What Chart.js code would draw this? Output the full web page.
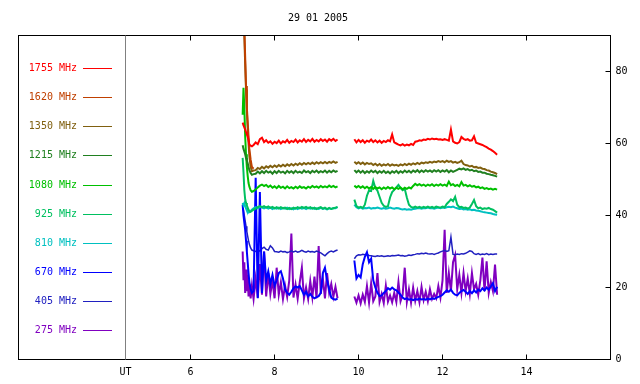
<!DOCTYPE html>
<html>
<head>
<meta charset="utf-8">
<script src="https://cdn.jsdelivr.net/npm/chart.js@4"></script>
<style>
  html, body { margin: 0; padding: 0; background: #fff; }
</style>
</head>
<body>
<canvas id="spectro" width="640" height="384"></canvas>
<script>
// sampling times in UT hours (9.70 marks the data gap)
const times = [
  7.24, 7.26, 7.28, 7.30, 7.32, 7.34, 7.36, 7.38, 7.40, 7.43, 7.46, 7.50,
  7.55, 7.60, 7.65, 7.70, 7.75, 7.80, 7.85, 7.90, 7.95, 8.00,
  8.05, 8.10, 8.15, 8.20, 8.25, 8.30, 8.35, 8.40, 8.45, 8.50,
  8.55, 8.60, 8.65, 8.70, 8.75, 8.80, 8.85, 8.90, 8.95, 9.00,
  9.05, 9.10, 9.15, 9.20, 9.25, 9.30, 9.35, 9.40, 9.45, 9.50,
  9.70,
  9.90, 9.95, 10.00, 10.05, 10.10, 10.15, 10.20, 10.25, 10.30, 10.35,
  10.40, 10.45, 10.50, 10.55, 10.60, 10.65, 10.70, 10.75, 10.80, 10.85,
  10.90, 10.95, 11.00, 11.05, 11.10, 11.15, 11.20, 11.25, 11.30, 11.35,
  11.40, 11.45, 11.50, 11.55, 11.60, 11.65, 11.70, 11.75, 11.80, 11.85,
  11.90, 11.95, 12.00, 12.05, 12.10, 12.15, 12.20, 12.25, 12.30, 12.35,
  12.40, 12.45, 12.50, 12.55, 12.60, 12.65, 12.70, 12.75, 12.80, 12.85,
  12.90, 12.95, 13.00, 13.05, 13.10, 13.15, 13.20, 13.25, 13.30
];

const s1755 = [
  65.8, 65.0, 64.5, 63.9, 63.2, 62.5, 62.0, 61.0, 59.7, 59.4, 59.2, 59.6,
  60.3, 59.8, 61.2, 61.6, 60.4, 60.9, 60.2, 60.6, 59.9, 60.5,
  60.1, 60.8, 60.0, 60.6, 60.3, 61.0, 60.2, 60.7, 60.4, 61.1,
  60.3, 60.9, 60.5, 61.2, 60.4, 61.0, 60.6, 61.3, 60.5, 61.0,
  60.6, 61.2, 60.7, 61.1, 60.5, 61.2, 60.8, 61.3, 60.7, 61.1,
  null,
  61.2, 60.3, 61.0, 60.4, 60.9, 60.2, 60.8, 60.5, 61.1, 60.4,
  60.9, 60.3, 60.8, 60.2, 60.7, 60.4, 60.9, 60.6, 62.5, 60.3,
  60.0, 59.7, 59.5, 59.8, 59.4, 59.7, 59.5, 59.9, 59.6, 60.5,
  60.6, 60.9, 60.8, 61.1, 61.0, 61.3, 61.1, 61.4, 61.2, 61.3,
  61.1, 61.2, 61.0, 61.2, 61.0, 60.8, 63.9, 60.6, 60.2, 60.0,
  60.4, 61.8, 61.3, 61.0, 61.2, 60.8, 60.9, 62.0, 60.2, 60.0,
  59.8, 59.6, 59.3, 59.0, 58.6, 58.3, 57.9, 57.4, 56.9
];

// 1620 MHz is only seen during the start-up drop, later it hides under 1350 MHz
const s1620 = [95, 95, 92, 84, 76, 70, 66, 62, 58.5, 55.5, 53.5, 53.0];

const s1350 = [
  95, 94, 90, 82, 75, 69, 64, 60, 56.5, 53.5, 52.3, 52.5,
  52.6, 53.2, 52.9, 53.5, 53.1, 53.7, 53.3, 53.8, 53.4, 53.9,
  53.5, 54.0, 53.6, 54.1, 53.7, 54.2, 53.8, 54.3, 53.9, 54.4,
  54.0, 54.5, 54.1, 54.6, 54.2, 54.6, 54.3, 54.7, 54.3, 54.8,
  54.4, 54.8, 54.5, 54.9, 54.5, 54.9, 54.6, 55.0, 54.6, 54.9,
  null,
  54.9, 54.4, 54.8, 54.3, 54.7, 54.2, 54.6, 54.3, 54.5, 54.0,
  54.4, 53.9, 54.3, 53.8, 54.2, 53.9, 54.3, 53.8, 54.2, 53.9,
  54.1, 53.8, 54.2, 53.9, 54.3, 54.0, 54.4, 54.1, 54.5, 54.2,
  54.6, 54.3, 54.7, 54.5, 54.8, 54.6, 54.9, 54.7, 55.0, 54.8,
  55.1, 54.9, 55.1, 54.8, 55.2, 54.9, 55.1, 54.7, 54.9, 54.6,
  54.8, 55.2, 54.3, 54.0, 53.9, 53.6, 53.8, 53.4, 53.5, 53.2,
  53.3, 53.0, 52.9, 52.6, 52.5, 52.2, 52.0, 51.8, 51.5
];

const s1215 = [
  59.5, 58.5, 57.8, 57.0, 56.0, 55.3, 54.5, 53.5, 52.6, 51.8, 51.3, 51.5,
  51.6, 52.2, 51.7, 52.3, 51.8, 52.4, 51.9, 52.2, 51.6, 52.3,
  51.8, 52.4, 51.9, 52.2, 51.7, 52.4, 51.9, 52.3, 51.8, 52.4,
  51.9, 52.2, 51.8, 52.5, 52.0, 52.3, 51.8, 52.4, 52.0, 52.5,
  51.9, 52.3, 52.0, 52.5, 51.9, 52.4, 52.0, 52.5, 52.1, 52.4,
  null,
  52.6, 52.0, 52.5, 51.9, 52.4, 51.8, 52.3, 51.9, 52.5, 52.0,
  52.4, 51.8, 52.3, 51.9, 52.4, 51.8, 52.2, 51.7, 52.3, 51.9,
  52.4, 51.8, 52.3, 51.9, 52.5, 52.0, 52.4, 51.9, 52.5, 52.1,
  52.6, 52.0, 52.5, 52.1, 52.6, 52.2, 52.5, 52.1, 52.6, 52.2,
  52.6, 52.1, 52.5, 52.2, 52.6, 52.0, 52.5, 52.1, 52.4, 52.7,
  53.0, 52.8, 53.1, 52.7, 52.9, 52.5, 52.7, 52.3, 52.5, 52.1,
  52.2, 51.9, 51.9, 51.6, 51.5, 51.3, 51.2, 51.0, 50.8
];

const s1080 = [
  68.0, 75.5, 70.0, 62.0, 57.0, 53.5, 51.0, 49.0, 48.0, 47.0, 46.6, 46.8,
  47.2, 47.8, 48.3, 48.6, 48.2, 48.5, 47.9, 48.3, 47.7, 48.1,
  47.6, 48.2, 47.7, 48.0, 47.5, 48.1, 47.6, 47.9, 47.5, 48.0,
  47.6, 48.1, 47.7, 47.9, 47.5, 48.0, 47.7, 48.2, 47.8, 48.1,
  47.7, 48.2, 47.8, 48.1, 47.8, 48.3, 47.9, 48.2, 47.8, 48.1,
  null,
  48.3, 47.8, 48.2, 47.7, 48.1, 47.6, 48.0, 47.5, 47.9, 47.4,
  47.9, 47.5, 47.8, 47.3, 47.8, 47.4, 47.9, 47.5, 47.8, 47.3,
  47.7, 47.4, 47.8, 47.3, 47.7, 47.4, 47.8, 47.5, 48.2, 48.8,
  48.4, 48.7, 48.3, 48.6, 48.2, 48.6, 48.3, 48.7, 48.2, 48.6,
  48.3, 48.7, 48.3, 48.6, 48.2, 49.4, 48.4, 48.7, 48.2, 48.5,
  48.1, 49.3, 48.3, 48.5, 48.1, 48.4, 48.0, 48.2, 47.8, 48.0,
  47.6, 47.8, 47.4, 47.6, 47.3, 47.5, 47.2, 47.4, 47.2
];

const s925 = [
  56.0, 52.0, 47.0, 44.5, 43.5, 42.8, 42.2, 41.6, 41.2, 41.0, 41.3, 41.6,
  41.9, 42.3, 42.6, 42.3, 42.6, 42.2, 42.5, 42.1, 42.4, 42.0,
  42.3, 41.9, 42.3, 42.0, 42.2, 41.8, 42.1, 41.8, 42.2, 41.9,
  42.3, 42.0, 42.4, 42.1, 42.4, 42.0, 42.3, 41.9, 42.2, 41.8,
  42.1, 42.3, 41.9, 42.2, 41.8, 42.1, 41.8, 42.0, 42.2, 42.4,
  null,
  44.4, 42.6, 42.2, 42.4, 42.1, 43.0, 45.5, 47.0, 46.8, 49.6,
  47.6, 46.9, 45.2, 43.5, 42.7, 42.4, 42.6, 45.0, 46.5, 47.1,
  47.8, 48.5, 47.6, 47.0, 47.4, 45.0, 43.0, 42.4, 42.2, 42.5,
  42.2, 42.4, 42.1, 42.4, 42.2, 42.5, 42.2, 42.4, 42.1, 42.5,
  42.3, 42.2, 42.5, 42.3, 43.2, 43.8, 44.5, 44.0, 45.2, 43.0,
  42.3, 42.4, 42.1, 42.2, 41.9, 42.2, 43.2, 44.3, 42.6, 42.0,
  42.2, 41.8, 42.0, 41.9, 42.1, 41.8, 41.6, 41.2, 40.8
];

const s810 = [
  43.5, 42.8, 43.4, 42.5, 42.0, 41.4, 41.0, 40.8, 40.9, 41.2, 41.6, 42.0,
  42.3, 42.0, 42.4, 42.2, 42.0, 42.3, 41.9, 42.2, 41.8, 42.1,
  41.9, 42.2, 41.8, 42.1, 41.9, 42.2, 41.8, 42.0, 41.7, 42.1,
  41.8, 42.2, 41.9, 42.1, 41.8, 42.2, 41.9, 42.1, 41.8, 42.0,
  41.8, 42.1, 41.8, 42.0, 41.7, 42.0, 41.8, 42.1, 42.0, 42.3,
  null,
  43.0, 42.3, 42.0, 42.2, 41.9, 42.1, 42.0, 42.2, 41.9, 42.1,
  42.0, 42.2, 42.0, 41.9, 42.1, 41.9, 42.0, 42.2, 42.0, 41.9,
  42.1, 42.0, 41.8, 41.7, 41.8, 41.6, 41.7, 41.6, 41.8, 41.9,
  42.0, 42.1, 41.9, 42.1, 42.0, 42.2, 42.0, 42.1, 41.9, 42.1,
  42.2, 42.0, 42.2, 42.1, 42.3, 42.4, 42.3, 42.5, 42.2, 42.0,
  41.8, 41.9, 41.7, 41.8, 41.6, 41.7, 41.5, 41.6, 41.4, 41.3,
  41.2, 41.0, 40.9, 40.8, 40.7, 40.6, 40.4, 40.3, 40.2
];

const s670 = [
  43.0, 40.0, 38.0, 36.0, 33.0, 30.0, 27.0, 24.0, 21.5, 19.5, 18.5, 19.0,
  50.5, 17.0, 46.5, 18.5, 30.0, 22.0, 24.5, 21.0, 23.5, 20.5,
  22.0, 24.0, 24.5, 22.5, 19.5, 18.5, 18.0, 18.8, 19.8, 20.3,
  20.0, 20.4, 19.2, 18.0, 18.8, 17.5, 18.2, 17.4, 17.0, 17.3,
  17.6, 18.5, 24.0, 25.5, 22.0, 19.5, 17.2, 16.8, 16.6, 16.9,
  null,
  27.5, 22.5, 23.5, 22.8, 26.5, 28.5, 29.8, 27.0, 28.0, 22.0,
  20.0, 18.5, 17.6, 17.8, 18.5, 19.0, 19.8, 19.4, 20.0, 19.5,
  19.2, 18.6, 18.0, 17.2, 16.8, 17.0, 16.6, 16.8, 16.5, 16.8,
  16.6, 16.9, 16.7, 16.8, 16.6, 16.9, 16.7, 17.0, 16.8, 17.1,
  17.4, 17.6, 18.0, 18.6, 19.2, 18.8, 19.4, 18.5, 18.0, 17.8,
  18.5, 19.0, 19.3, 18.8, 18.2, 19.0, 18.4, 19.2, 18.6, 19.4,
  19.0, 19.8, 19.2, 20.0, 19.4, 20.3, 21.2, 19.0, 20.2
];

const s405 = [
  43.0, 41.5, 40.0, 38.5, 37.0, 35.5, 34.2, 33.0, 32.0, 31.0, 30.4, 30.2,
  30.0, 30.5, 30.1, 30.8, 31.2, 30.6, 30.4, 31.6, 31.0, 30.0,
  29.9, 29.8, 30.1, 29.9, 30.0, 29.7, 29.9, 30.2, 29.9, 30.1,
  29.8, 30.0, 30.3, 30.0, 29.8, 30.1, 29.9, 30.0, 29.8, 30.1,
  29.9, 29.6, 29.2, 28.8, 29.4, 29.9, 30.1, 29.9, 30.2, 30.4,
  null,
  28.0, 28.8, 29.1, 29.0, 29.2, 29.1, 29.2, 28.9, 28.8, 28.7,
  28.6, 28.8, 28.7, 28.8, 28.6, 28.7, 28.8, 28.7, 28.9, 28.8,
  28.9, 29.0, 28.8, 28.9, 28.7, 28.8, 29.0, 28.9, 29.1, 29.2,
  29.4, 29.3, 29.5, 29.4, 29.6, 29.4, 29.3, 29.4, 29.2, 29.4,
  29.6, 29.9, 30.1, 30.3, 30.0, 30.2, 34.0, 29.2, 29.1, 29.3,
  29.2, 29.4, 29.3, 29.5, 29.8, 30.2, 30.0, 29.4, 29.2, 29.4,
  29.1, 29.3, 29.2, 29.4, 29.1, 29.3, 29.2, 29.3, 29.3
];

const s275 = [
  30.0, 22.0, 27.0, 18.5, 25.0, 19.0, 23.5, 17.5, 21.0, 17.0, 20.5, 16.8,
  22.5, 17.2, 26.5, 18.0, 30.0, 17.5, 24.0, 18.2, 22.0, 17.0,
  25.5, 18.0, 21.5, 16.8, 20.5, 17.4, 22.0, 35.0, 17.2, 20.8,
  16.9, 21.5, 25.5, 17.0, 20.0, 16.8, 21.8, 17.3, 23.0, 17.0,
  31.5, 18.2, 22.5, 17.0, 24.0, 18.5, 21.0, 17.4, 20.2, 17.0,
  null,
  17.5, 15.8, 17.8, 15.6, 18.0, 16.0, 20.4, 15.8, 21.2, 16.2,
  17.5, 24.0, 16.0, 18.2, 15.7, 20.5, 16.1, 17.8, 15.9, 18.5,
  16.0, 21.5, 16.2, 18.0, 25.5, 16.0, 19.5, 15.8, 20.0, 16.3,
  19.0, 15.9, 20.2, 16.5, 18.8, 16.2, 19.5, 16.8, 18.2, 17.0,
  20.4, 17.2, 22.0, 36.0, 18.5, 24.0, 19.0, 27.0, 29.0, 19.5,
  23.5, 18.5, 24.0, 19.0, 22.5, 18.2, 24.0, 19.5, 21.0, 18.0,
  22.0, 28.3, 19.0, 27.3, 18.5, 21.5, 19.0, 26.4, 18.0
];

const freqLabels = ['1755 MHz', '1620 MHz', '1350 MHz', '1215 MHz', '1080 MHz',
                    '925 MHz', '810 MHz', '670 MHz', '405 MHz', '275 MHz'];
const freqColors = ['#ff0000', '#c04000', '#806010', '#208020', '#00c000',
                    '#00c060', '#00c0c0', '#0000ff', '#2020c0', '#8000c0'];
const freqValues = [s1755, s1620, s1350, s1215, s1080, s925, s810, s670, s405, s275];

const xTickValues = [4.45, 6, 8, 10, 12, 14];
const yTickValues = [0, 20, 40, 60, 80];
const titleText = '29 01 2005';

const monoFont = { family: 'DejaVu Sans Mono', size: 10 };
const fontStr = '10px "DejaVu Sans Mono"';

// frame, inward ticks, title and the left legend panel
const framePlugin = {
    id: 'framePlugin',
    afterDraw(chart) {
        const ctx = chart.ctx;
        const a = chart.chartArea;
        const xs = chart.scales.x;
        const ys = chart.scales.y;
        ctx.save();
        ctx.lineWidth = 1;

        ctx.strokeStyle = '#000';
        ctx.strokeRect(18.5, a.top, a.right - 18.5, a.bottom - a.top);

        ctx.strokeStyle = '#808080';
        ctx.beginPath();
        ctx.moveTo(a.left, a.top);
        ctx.lineTo(a.left, a.bottom);
        ctx.stroke();

        ctx.strokeStyle = '#000';
        ctx.beginPath();
        xTickValues.slice(1).forEach(v => {
            const px = Math.floor(xs.getPixelForValue(v)) + 0.5;
            ctx.moveTo(px, a.bottom); ctx.lineTo(px, a.bottom - 5);
            ctx.moveTo(px, a.top); ctx.lineTo(px, a.top + 5);
        });
        yTickValues.slice(1).forEach(v => {
            const py = Math.floor(ys.getPixelForValue(v)) + 0.5;
            ctx.moveTo(a.right, py); ctx.lineTo(a.right - 5, py);
        });
        ctx.stroke();

        ctx.font = fontStr;
        ctx.fillStyle = '#000';
        ctx.textAlign = 'center';
        ctx.textBaseline = 'middle';
        ctx.fillText(titleText, 318, 18);

        // legend
        ctx.textAlign = 'right';
        freqLabels.forEach((lab, i) => {
            const y = Math.round(68 + i * 29.15) + 0.5;
            ctx.fillStyle = freqColors[i];
            ctx.fillText(lab, 77, y);
            ctx.strokeStyle = freqColors[i];
            ctx.beginPath();
            ctx.moveTo(83, y);
            ctx.lineTo(112, y);
            ctx.stroke();
        });
        ctx.restore();
    }
};

const datasets = freqValues.map((vals, i) => ({
    label: freqLabels[i],
    data: vals.map((v, j) => ({ x: times[j], y: v })),
    borderColor: freqColors[i],
    backgroundColor: freqColors[i],
    borderWidth: (i === 8) ? 1.5 : 2,
    pointRadius: 0,
    tension: 0,
    spanGaps: false,
    clip: 0
}));

const ctx = document.getElementById('spectro').getContext('2d');
new Chart(ctx, {
    type: 'line',
    data: { datasets },
    options: {
        responsive: false,
        animation: false,
        devicePixelRatio: 1,
        layout: { padding: { left: 125.5, top: 35.5, right: 0, bottom: 0 } },
        plugins: { legend: { display: false }, tooltip: { enabled: false } },
        scales: {
            x: {
                type: 'linear',
                min: 4.45,
                max: 16,
                afterBuildTicks: s => { s.ticks = xTickValues.map(v => ({ value: v })); },
                afterFit: s => { s.height = 24.5; },
                grid: { display: false, drawTicks: false },
                border: { display: false },
                ticks: {
                    padding: 7,
                    color: '#000',
                    font: monoFont,
                    autoSkip: false,
                    maxRotation: 0,
                    callback: v => v === 4.45 ? 'UT' : v
                }
            },
            y: {
                position: 'right',
                min: 0,
                max: 90,
                afterBuildTicks: s => { s.ticks = yTickValues.map(v => ({ value: v })); },
                afterFit: s => { s.width = 29.5; },
                grid: { display: false, drawTicks: false },
                border: { display: false },
                ticks: { padding: 5, color: '#000', font: monoFont }
            }
        }
    },
    plugins: [framePlugin]
});
</script>
</body>
</html>
